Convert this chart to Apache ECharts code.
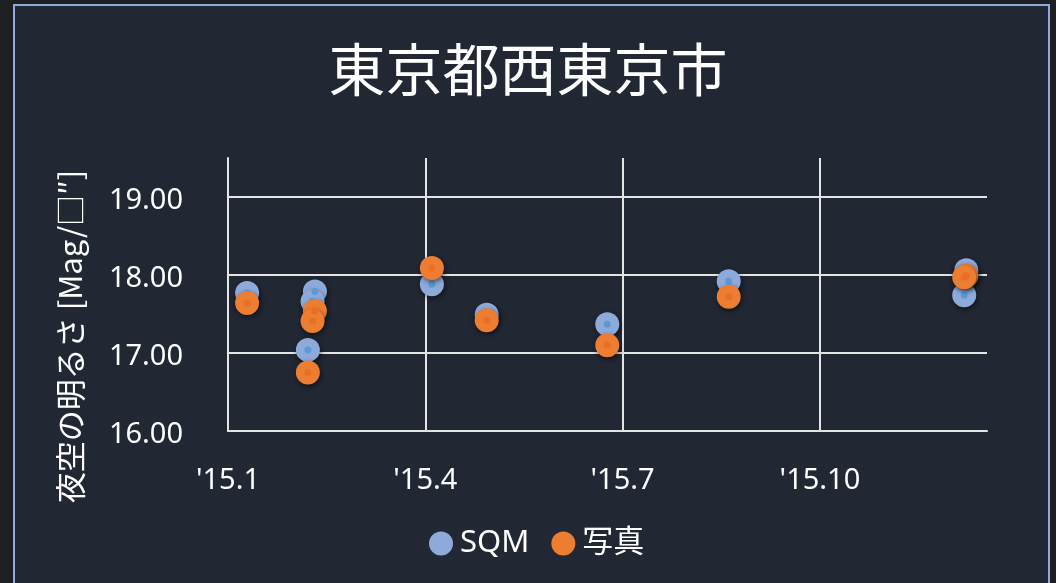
<!DOCTYPE html>
<html>
<head>
<meta charset="utf-8">
<script src="https://cdn.jsdelivr.net/npm/echarts@6/dist/echarts.min.js"></script>
<style>
html,body{margin:0;padding:0;background:#1d1f23;}
#chart{width:1056px;height:583px;}
</style>
</head>
<body>
<div id="chart"></div>
<script>
// measurement dates (shared by both series)
var dates = ['2015-01-10','2015-02-10','2015-02-09','2015-02-07','2015-04-04',
             '2015-04-29','2015-06-24','2015-08-20','2015-12-08','2015-12-07'];
var sqmValues   = [17.77, 17.79, 17.66, 17.04, 17.88, 17.49, 17.37, 17.92, 18.06, 17.74];
var photoValues = [17.64, 17.54, 17.41, 16.75, 18.09, 17.42, 17.10, 17.72, 17.99, 17.97];
var tickLabels = ["'15.1", "'15.4", "'15.7", "'15.10"];

// date -> fractional month index (Jan 1 = 0)
function toMonth(s) {
    var p = s.split('-');
    var y = +p[0], m = +p[1], d = +p[2];
    var days = new Date(y, m, 0).getDate();
    return (m - 1) + (d - 1) / days;
}
function pairs(vals) {
    return vals.map(function (v, i) { return [toMonth(dates[i]), v]; });
}

var fontFamily = '"Noto Sans", "Noto Sans CJK JP", sans-serif';
var gridColor = '#e4e4e4';
var shadow = {shadowBlur: 5, shadowOffsetX: 1, shadowOffsetY: 2, shadowColor: 'rgba(0,0,0,0.55)'};

// big disc + small centre dot, like the excel markers
function marker(name, outer, inner, vals) {
    return [{
        name: name,
        type: 'scatter',
        symbolSize: 24,
        itemStyle: Object.assign({color: outer, opacity: 1}, shadow),
        data: pairs(vals)
    }, {
        name: name,
        type: 'scatter',
        symbolSize: 7,
        silent: true,
        itemStyle: {color: inner, opacity: 1},
        data: pairs(vals)
    }];
}

option = {
    backgroundColor: '#1d1f23',
    graphic: [{
        type: 'rect',
        z: -10,
        shape: {x: 14, y: 5, width: 1035, height: 600},
        style: {fill: '#212733', stroke: '#8eaadb', lineWidth: 2}
    }],
    title: {
        text: '東京都西東京市',
        left: 'center',
        top: 36,
        textStyle: {
            color: '#ffffff',
            fontSize: 57,
            fontWeight: 'normal',
            fontFamily: '"Noto Sans CJK JP", sans-serif'
        }
    },
    legend: {
        left: 424,
        top: 523,
        itemWidth: 24,
        itemHeight: 24,
        itemGap: 22,
        textStyle: {
            color: '#ffffff',
            fontSize: 31,
            padding: [0, 0, 0, 2],
            fontFamily: '"Noto Sans", "Noto Sans CJK JP", sans-serif'
        },
        data: [
            {name: 'SQM', icon: 'circle', itemStyle: {color: '#8eaadb'}},
            {name: '写真', icon: 'circle', itemStyle: {color: '#ed7d31'}}
        ]
    },
    grid: {
        left: 228,
        right: 69,
        top: 158,
        bottom: 152
    },
    xAxis: {
        type: 'value',
        min: 0,
        max: 11.54,
        interval: 3,
        axisLine: {show: true, lineStyle: {color: gridColor, width: 2}},
        axisTick: {show: false},
        axisLabel: {
            color: '#ffffff',
            fontSize: 29,
            fontFamily: fontFamily,
            margin: 35,
            showMaxLabel: false,
            formatter: function (v) { return tickLabels[Math.round(v / 3)] || ''; }
        },
        splitLine: {show: true, showMaxLine: false, lineStyle: {color: gridColor, width: 2}}
    },
    yAxis: {
        type: 'value',
        min: 16,
        max: 19.5,
        interval: 1,
        name: '夜空の明るさ [Mag/□″]',
        nameLocation: 'middle',
        nameGap: 142,
        nameTextStyle: {
            color: '#ffffff',
            fontSize: 31,
            fontFamily: '"Noto Sans CJK JP", sans-serif',
            padding: [0, 84, 0, 0]
        },
        axisLine: {show: true, lineStyle: {color: gridColor, width: 2}},
        axisTick: {show: false},
        axisLabel: {
            margin: 45,
            showMaxLabel: false,
            formatter: function (v) { return '{n|' + v.toFixed(2) + '}'; },
            rich: {
                n: {
                    color: '#ffffff',
                    fontSize: 29,
                    fontFamily: fontFamily,
                    padding: [7, 0, 0, 0]
                }
            }
        },
        splitLine: {show: true, showMaxLine: false, lineStyle: {color: gridColor, width: 2}}
    },
    series: marker('SQM', '#8eaadb', '#5b9bd5', sqmValues)
        .concat(marker('写真', '#ed7d31', '#e86f24', photoValues))
};
var chart = echarts.init(document.getElementById('chart'));
chart.setOption(option);
</script>
</body>
</html>
